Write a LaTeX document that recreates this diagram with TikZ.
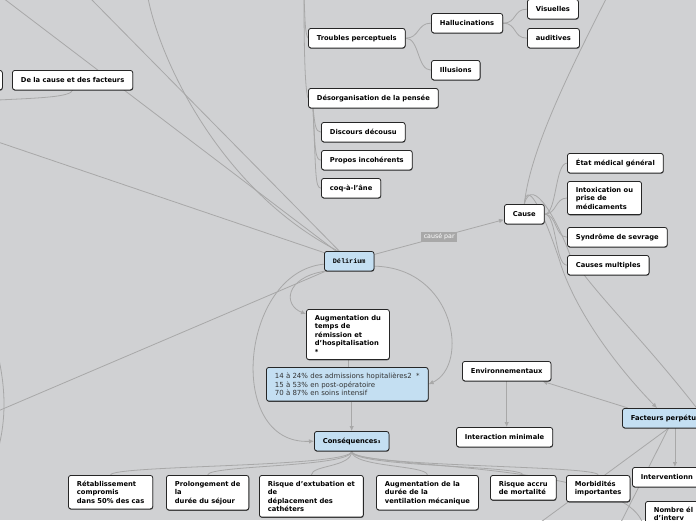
\documentclass[tikz,border=0pt]{standalone}
\usepackage{fontspec}
\setmainfont{DejaVu Sans}
\newfontfamily\delfont{Liberation Mono}
\usetikzlibrary{arrows.meta,backgrounds,shadows}
\definecolor{fond}{HTML}{D0D1D3}
\definecolor{lien}{HTML}{A8A8A8}
\definecolor{bleu}{HTML}{C4DFF2}
\begin{document}
\begin{tikzpicture}[x=1pt,y=-1pt,
topic/.style={draw=black!85,line width=.8pt,rounded corners=2.5pt,fill=white,anchor=north west,align=left,
  font=\fontsize{6.75}{8.5}\selectfont\bfseries,inner xsep=8.5pt,inner ysep=5.5pt,minimum height=19.5pt,
  drop shadow={shadow xshift=.3pt,shadow yshift=-.8pt,opacity=.6,fill=black}},
bluetopic/.style={topic,fill=bleu},
link/.style={draw=lien,line width=.8pt},
arrowlink/.style={link,-{Latex[length=5pt,width=4.5pt]}},
lbl/.style={fill=lien,text=white,font=\fontsize{6.3}{7.5}\selectfont,inner xsep=2.5pt,inner ysep=2pt}
]
\useasboundingbox (0,0) rectangle (696,520);

\node[topic,minimum width=42pt] (cote) at (-40,70) {};
\node[topic] (causefact) at (12,70) {De la cause et des facteurs};
\node[topic] (troubles) at (308,28) {Troubles perceptuels};
\node[topic] (halluc) at (431,13) {Hallucinations};
\node[topic] (visu) at (527,-1) {Visuelles};
\node[topic] (audit) at (527,28) {auditives};
\node[topic] (illus) at (431,60) {Illusions};
\node[topic] (desorg) at (308,88) {Désorganisation de la pensée};
\node[topic] (disc) at (321,122) {Discours décousu};
\node[topic] (propos) at (321,150) {Propos incohérents};
\node[topic] (coq) at (321,178) {coq-à-l'âne};
\node[bluetopic,font=\fontsize{6.8}{8}\delfont\bfseries] (delirium) at (324,251) {Délirium};
\node[topic] (cause) at (504,204) {Cause};
\node[topic] (etat) at (567,153) {État médical général};
\node[topic] (intox) at (567,181) {Intoxication ou\\prise de\\médicaments};
\node[topic] (sevrage) at (567,227) {Syndrôme de sevrage};
\node[topic] (multiples) at (567,255) {Causes multiples};
\node[topic] (augtemps) at (306,309) {Augmentation du\\temps de\\rémission et\\d'hospitalisation\\*};
\node[bluetopic,font=\fontsize{7}{8.5}\selectfont,text=black!80] (stats) at (266,367)
  {14 à 24\% des admissions hopitalières2~~*\\15 à 53\% en post-opératoire\\70 à 87\% en soins intensif};
\node[bluetopic] (conseq) at (314,431) {Conséquences₃};
\node[topic] (env) at (462,361) {Environnementaux};
\node[topic] (interact) at (456,427) {Interaction minimale};
\node[bluetopic,text width=75pt] (facteurs) at (622,408) {Facteurs perpétu};
\node[topic,text width=68pt] (interv) at (632,467) {Interventionn};
\node[topic,text width=70pt] (nombre) at (645,501) {Nombre él\\d'interv};
\node[topic] (morbid) at (566,475) {Morbidités\\importantes};
\node[topic] (accru) at (490,475) {Risque accru\\de mortalité};
\node[topic] (augvent) at (376,475) {Augmentation de la\\durée de la\\ventilation mécanique};
\node[topic] (extub) at (259,475) {Risque d'extubation et\\de\\déplacement des\\cathéters};
\node[topic] (prolong) at (166,475) {Prolongement de\\la\\durée du séjour};
\node[topic] (retab) at (68,475) {Rétablissement\\compromis\\dans 50\% des cas};

\coordinate (t1) at (3,-2);
\coordinate (t2) at (90,-2);
\coordinate (t3) at (148,-2);
\coordinate (l1) at (-2,142);
\coordinate (l2) at (-2,411);
\coordinate (e1) at (-2,355);
\coordinate (e2) at (-2,450);
\coordinate (g1) at (-2,100);
\coordinate (p1) at (304,-5);
\coordinate (tr) at (607,-3);
\coordinate (bout) at (712,428);
\coordinate (f1) at (530,530);
\coordinate (f2) at (617,530);
\coordinate (c1) at (644,530);

\begin{scope}[on background layer]
\fill[fond] (0,0) rectangle (696,520);
\draw[link] (t1) -- (delirium.center);
\draw[link] (t2) -- (delirium.center);
\draw[link] (t3) .. controls (160,60) and (220,190) .. (338,251);
\draw[link] (l1) -- (delirium.center);
\draw[link] (l2) -- (delirium.center);
\draw[link] (e1) .. controls (6,390) and (6,420) .. (e2);
\draw[link] (g1) .. controls (40,98) and (70,97) .. (causefact.south);
\draw[link] (p1) .. controls (305,20) and (305,33) .. (troubles.west);
\draw[link] (p1) .. controls (304,50) and (305,90) .. (desorg.west);
\draw[link] (troubles.east) .. controls +(14,0) and +(-14,0) .. (halluc.west);
\draw[link] (troubles.east) .. controls +(14,0) and +(-14,0) .. (illus.west);
\draw[link] (halluc.east) .. controls +(14,0) and +(-14,0) .. (visu.west);
\draw[link] (halluc.east) .. controls +(14,0) and +(-14,0) .. (audit.west);
\coordinate (dsrc) at ([xshift=5pt]desorg.south west);
\draw[link] (dsrc) .. controls +(2,15) and +(-6,0) .. (disc.west);
\draw[link] (dsrc) .. controls +(2,40) and +(-6,0) .. (propos.west);
\draw[link] (dsrc) .. controls +(3,65) and +(-6,0) .. (coq.west);
\draw[link] (tr) .. controls (570,70) and (530,150) .. (cause.north);
\draw[link] (cause.east) .. controls +(12,0) and +(-12,0) .. (etat.west);
\draw[link] (cause.east) .. controls +(12,0) and +(-12,0) .. (intox.west);
\draw[link] (cause.east) .. controls +(12,0) and +(-12,0) .. (sevrage.west);
\draw[link] (cause.east) .. controls +(12,0) and +(-12,0) .. (multiples.west);
\draw[arrowlink] (cause.north) .. controls +(3,-30) and (548,225) .. (560,262)
  .. controls (575,310) and (615,365) .. ([xshift=35pt]facteurs.north west);
\draw[link] (cause.north) .. controls +(8,-30) and (558,222) .. (570,255)
  .. controls (595,295) and (650,345) .. (bout);
\draw[arrowlink] (delirium) -- node[lbl] {causé par} (cause);
\draw[arrowlink] (delirium.south west) .. controls (285,278) and (283,305) .. ([yshift=-5pt]augtemps.north west);
\draw[arrowlink] ([yshift=-5pt]delirium.east) .. controls (455,268) and (470,365) .. (stats.east);
\draw[arrowlink] ([yshift=-3pt]delirium.west) .. controls (240,272) and (225,445) .. (conseq.west);
\draw[link] (augtemps.south) -- (augtemps.south |- stats.north);
\draw[arrowlink] (stats.south -| conseq.north) -- (conseq.north);
\foreach \c in {retab,prolong,extub,augvent,accru,morbid}
  \draw[link] (conseq.south) .. controls +(0,16) and +(0,-10) .. (\c.north);
\draw[link] (conseq.south) .. controls +(0,18) and (640,460) .. (c1);
\draw[link] (facteurs.south) -- (f1);
\draw[link] (facteurs.south) -- (f2);
\draw[arrowlink] (facteurs.south -| interv.north) -- (interv.north);
\draw[arrowlink] ([xshift=6pt]facteurs.north west) -- ([xshift=-9pt]env.south east);
\draw[arrowlink] (env.south) -- (env.south |- interact.north);
\end{scope}
\end{tikzpicture}
\end{document}
